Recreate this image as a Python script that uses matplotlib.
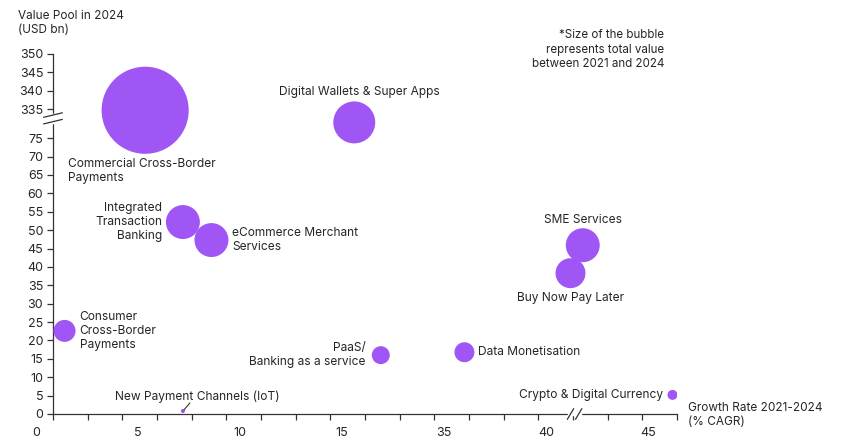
import matplotlib.pyplot as plt
from matplotlib.transforms import blended_transform_factory

plt.rcParams['font.family'] = ['Inter', 'DejaVu Sans']

# data
segments = ['Commercial Cross-Border\nPayments', 'Digital Wallets & Super Apps',
            'Integrated\nTransaction\nBanking', 'eCommerce Merchant\nServices',
            'SME Services', 'Buy Now Pay Later', 'Consumer\nCross-Border\nPayments',
            'PaaS/\nBanking as a service', 'Data Monetisation',
            'Crypto & Digital Currency', 'New Payment Channels (IoT)']
growth_rate = [5.35, 17.4, 7.2, 8.6, 41.8, 41.2, 1.4, 22.6, 36.0, 46.2, 7.2]
value_pool = [334.7, 79.3, 52.2, 47.3, 45.9, 38.3, 22.6, 16.0, 16.8, 5.2, 0.8]
total_value = [1900, 441, 289, 289, 289, 225, 121, 81, 100, 25, 4]

x_tick_labels = [0, 5, 10, 15, 35, 40, 45]
y_tick_labels = [0, 5, 10, 15, 20, 25, 30, 35, 40, 45, 50, 55, 60, 65, 70, 75,
                 335, 340, 345, 350]

purple = '#a056f5'
text_color = '#262626'


def xmap(v):
    # broken x axis: 15 -> 35 squeezed
    if v <= 15:
        return v
    if v >= 35:
        return v - 15
    return 15 + (v - 15) / 4


def ymap(v):
    # broken y axis: 75 .. 335
    return v if v < 200 else v - 252.1


fig = plt.figure(figsize=(8.42, 4.41), dpi=100)
ax = fig.add_axes([53 / 842, 1 - 414 / 441, 624 / 842, 360 / 441])
ax.set_xlim(0.833, 31.42)
ax.set_ylim(0, 97.9)

xs = [xmap(v) for v in growth_rate]
ys = [ymap(v) for v in value_pool]
sizes = [2.07 * v for v in total_value]
ax.scatter(xs, ys, s=sizes, color=purple, edgecolor='none', zorder=3)

for side in ['top', 'right']:
    ax.spines[side].set_visible(False)
for side in ['left', 'bottom']:
    ax.spines[side].set_color('#333333')
    ax.spines[side].set_linewidth(0.9)

ax.set_yticks([ymap(v) for v in y_tick_labels])
ax.set_yticklabels([str(v) for v in y_tick_labels])
ax.tick_params(axis='y', length=4, width=0.9, color='#333333', labelsize=9,
               labelcolor=text_color, pad=3)

n_ticks = 19
x0, x1 = ax.get_xlim()
ax.set_xticks([x0 + (x1 - x0) * i / (n_ticks - 1) for i in range(n_ticks)])
ax.set_xticklabels([])
ax.tick_params(axis='x', length=4, width=0.9, color='#333333')

tr = blended_transform_factory(ax.transData, ax.transAxes)
for v in x_tick_labels:
    ax.text(xmap(v), -0.035, str(v), transform=tr, ha='center', va='top',
            fontsize=9, color=text_color, clip_on=False)

# break marks
def y_break(yd):
    ax.plot([x0, x0], [yd - 0.9, yd + 0.9], color='white', lw=2.5,
            clip_on=False, zorder=4)
    for dy in (-0.9, 0.9):
        ax.plot([x0 - 0.45, x0 + 0.45], [yd + dy - 0.6, yd + dy + 0.6],
                color='#333333', lw=0.9, clip_on=False, zorder=5)


def x_break(xd):
    ax.plot([xd - 0.25, xd + 0.25], [0, 0], color='white', lw=2.5,
            clip_on=False, zorder=4)
    for dx in (-0.2, 0.2):
        ax.plot([xd + dx - 0.15, xd + dx + 0.15], [-1.4, 1.4],
                color='#333333', lw=0.9, clip_on=False, zorder=5)


y_break(80.4)
x_break(26.4)

# bubble labels: (dx pixels, dy pixels, ha)
label_offsets = [(-77, -61, 'left'), (5, 30, 'center'), (-21, 0, 'right'),
                 (21, 0, 'left'), (0, 25, 'center'), (0, -25, 'center'),
                 (15, 0, 'left'), (-15, 0, 'right'), (14, 0, 'left'),
                 (-9, 0, 'right'), (14, 14, 'center')]
for name, x, y, (dx, dy, ha) in zip(segments, xs, ys, label_offsets):
    ax.annotate(name, (x, y), xytext=(dx * 0.72, dy * 0.72),
                textcoords='offset points', ha=ha, va='center', fontsize=8.6,
                color=text_color, linespacing=1.2, zorder=6)

# leader line for IoT
ax.annotate('', (xs[-1] + 0.05, ys[-1] + 0.3), xytext=(6 * 0.72, 7 * 0.72),
            textcoords='offset points',
            arrowprops=dict(arrowstyle='-', color='#333333', lw=0.8,
                            shrinkA=0, shrinkB=0))

fig.text(18 / 842, 1 - 10 / 441, 'Value Pool in 2024\n(USD bn)', ha='left',
         va='top', fontsize=8.5, color=text_color, linespacing=1.25)
fig.text(664 / 842, 1 - 29 / 441,
         '*Size of the bubble\nrepresents total value\nbetween 2021 and 2024',
         ha='right', va='top', fontsize=8.3, color=text_color, linespacing=1.3)
fig.text(688 / 842, 1 - 402 / 441, 'Growth Rate 2021-2024\n(% CAGR)',
         ha='left', va='top', fontsize=8.5, color=text_color, linespacing=1.25)

fig.savefig('out.png', dpi=100)
